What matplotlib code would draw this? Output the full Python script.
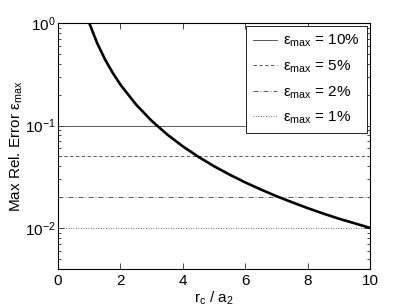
import numpy as np
import matplotlib.pyplot as plt

plt.rcParams.update({'font.family': ['Liberation Sans', 'DejaVu Sans'],
                     'mathtext.fontset': 'custom',
                     'mathtext.rm': 'Liberation Sans',
                     'mathtext.it': 'Liberation Sans',
                     'xtick.direction': 'in',
                     'ytick.direction': 'in',
                     'xtick.top': True,
                     'ytick.right': True,
                     'font.size': 11})

# curve
r_ratio = [1.0, 1.25, 1.5, 1.75, 2.0, 2.5, 3.0, 3.5, 4.0, 4.5, 5.0, 5.5, 6.0,
           6.5, 7.0, 7.5, 8.0, 8.5, 9.0, 9.5, 10.0]
max_err = [1.0, 0.64, 0.444, 0.327, 0.25, 0.16, 0.111, 0.0816, 0.0625, 0.0494,
           0.04, 0.0331, 0.0278, 0.0237, 0.0204, 0.0178, 0.0156, 0.0138,
           0.0123, 0.0111, 0.01]

levels = [0.10, 0.05, 0.02, 0.01]
level_labels = ['10%', '5%', '2%', '1%']
styles = ['-', (0, (4, 3)), (0, (6, 2.5, 1, 2.5)), (0, (1, 2))]

fig = plt.figure(figsize=(4.09, 3.08), dpi=100)
ax = fig.add_axes([0.142, 0.127, 0.763, 0.798])

for lv, lab, ls in zip(levels, level_labels, styles):
    ax.axhline(lv, color='0.25', lw=0.6, ls=ls,
               label='ε$_{\\mathrm{max}}$ = ' + lab)
ax.plot(r_ratio, max_err, color='k', lw=1.9)

ax.set_yscale('log')
ax.set_xlim(0, 10)
ax.set_ylim(10**-2.4, 1)
ax.set_xticks([0, 2, 4, 6, 8, 10])
ax.set_xlabel('r$_\\mathrm{c}$ / a$_\\mathrm{2}$', labelpad=1)
ax.set_ylabel('Max Rel. Error ε$_{\\mathrm{max}}$', va='center')
ax.yaxis.set_label_coords(-0.135, 0.5)
ax.tick_params(which='both', width=0.5)
ax.tick_params(which='major', length=4)
ax.tick_params(which='minor', length=2)
ax.tick_params(axis='y', pad=2)

leg = ax.legend(loc='upper right', fancybox=False, edgecolor='k',
                framealpha=1, handlelength=1.6, borderaxespad=0.2,
                labelspacing=0.6, handletextpad=0.4, borderpad=0.45)
leg.get_frame().set_linewidth(0.6)

fig.savefig('out.png', dpi=100)
